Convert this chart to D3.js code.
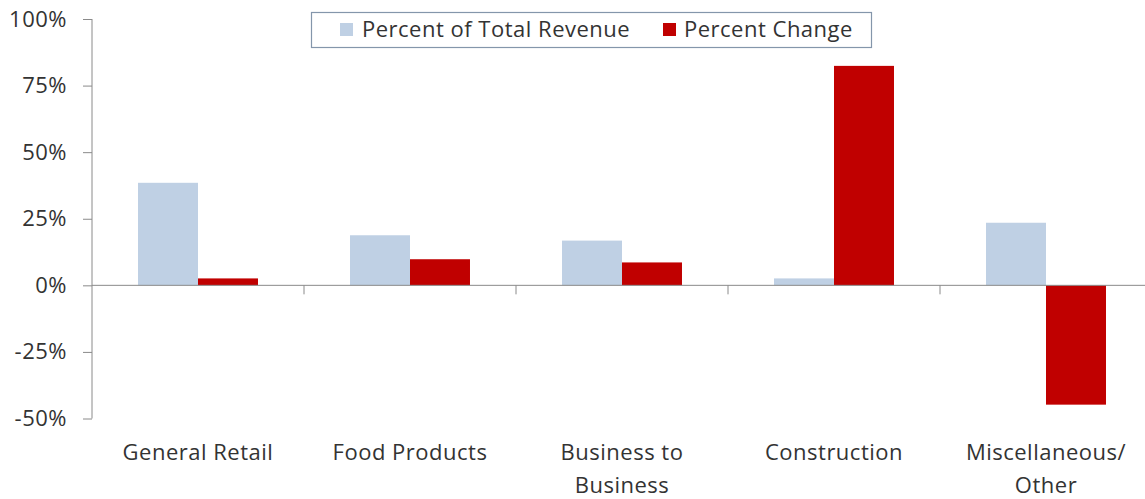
<!DOCTYPE html>
<html>
<head>
<meta charset="utf-8">
<script src="https://cdn.jsdelivr.net/npm/d3@7"></script>
<style>
  html, body { margin: 0; padding: 0; background: #fff; }
  svg { display: block; }
  text { font-family: "Open Sans", sans-serif; fill: #333; letter-spacing: 0.5px; }
</style>
</head>
<body>
<svg id="chart" width="1145" height="499"></svg>
<script>
// Revenue share and year-over-year change by business category
const categories = [
  ["General Retail"],
  ["Food Products"],
  ["Business to", "Business"],
  ["Construction"],
  ["Miscellaneous/", "Other"]
];
const seriesNames = ["Percent of Total Revenue", "Percent Change"];
const percentOfTotalRevenue = [38.5, 18.8, 16.8, 2.6, 23.5];
const percentChange = [2.6, 9.8, 8.6, 82.4, -44.8];
const yTicks = [-50, -25, 0, 25, 50, 75, 100];
const colors = ["#bfd0e4", "#c00000"];

const svg = d3.select("#chart");
const margin = { left: 92, right: -7 };
const W = 1145;
const FONT = "'Open Sans', sans-serif";
const FS = "22px";

const keys = categories.map(c => c.join(" "));
const x0 = d3.scaleBand()
  .domain(keys)
  .range([margin.left, W - margin.right])
  .paddingInner(0).paddingOuter(0);

const x1 = d3.scaleBand()
  .domain(seriesNames)
  .range([0, x0.bandwidth()])
  .paddingInner(0).paddingOuter(0.767);

const y = d3.scaleLinear().domain([-50, 100]).range([418.5, 19]);

const data = keys.map((k, i) => ({
  key: k,
  values: [percentOfTotalRevenue[i], percentChange[i]]
}));

// Bars
const groups = svg.append("g").selectAll("g")
  .data(data).join("g")
  .attr("transform", d => `translate(${x0(d.key)},0)`);

groups.selectAll("rect")
  .data(d => d.values.map((v, j) => ({ name: seriesNames[j], v, j })))
  .join("rect")
  .attr("x", d => x1(d.name))
  .attr("width", x1.bandwidth())
  .attr("y", d => y(Math.max(0, d.v)))
  .attr("height", d => Math.abs(y(d.v) - y(0)))
  .attr("fill", d => colors[d.j]);

// Y axis
const yAxis = d3.axisLeft(y)
  .tickValues(yTicks)
  .tickFormat(d => d + "%")
  .tickSize(9)
  .tickPadding(16);

const yg = svg.append("g")
  .attr("transform", `translate(${margin.left},0)`)
  .call(yAxis);
yg.select(".domain").attr("stroke", "#8a8a8a").attr("d", `M0,${y(100)}V${y(-50)}`);
yg.selectAll(".tick line").attr("stroke", "#8a8a8a");
yg.selectAll(".tick text")
  .style("font-size", FS).style("font-family", FONT)
  .attr("fill", "#333");

// Zero baseline with category separators
const xAxis = d3.axisBottom(x0).tickSize(0).tickFormat("");
const xg = svg.append("g")
  .attr("transform", `translate(0,${y(0)})`)
  .call(xAxis);
xg.select(".domain").attr("stroke", "#8a8a8a").attr("d", `M${margin.left},0H${W}`);
xg.selectAll(".tick").remove();

const sepPositions = keys.slice(1).map(k => x0(k));
xg.selectAll("line.sep")
  .data(sepPositions).join("line")
  .attr("class", "sep")
  .attr("x1", d => d).attr("x2", d => d)
  .attr("y1", 0).attr("y2", 9)
  .attr("stroke", "#8a8a8a");

// Category labels
const labels = svg.append("g").selectAll("text")
  .data(categories).join("text")
  .attr("x", (d, i) => x0(keys[i]) + x0.bandwidth() / 2)
  .attr("y", 460)
  .attr("text-anchor", "middle")
  .style("font-size", FS);
labels.selectAll("tspan")
  .data(d => d).join("tspan")
  .attr("x", function () { return this.parentNode.getAttribute("x"); })
  .attr("dy", (d, i) => i === 0 ? 0 : 33)
  .text(d => d);

// Legend
const legend = svg.append("g");
legend.append("rect")
  .attr("x", 311.5).attr("y", 12.5)
  .attr("width", 560).attr("height", 35)
  .attr("fill", "#fff").attr("stroke", "#8496ab").attr("stroke-width", 1.2);

const legendItems = [
  { name: seriesNames[0], sx: 340, tx: 362 },
  { name: seriesNames[1], sx: 663, tx: 684 }
];
legendItems.forEach((it, i) => {
  legend.append("rect")
    .attr("x", it.sx).attr("y", 23)
    .attr("width", 13).attr("height", 13)
    .attr("fill", colors[i]);
  legend.append("text")
    .attr("x", it.tx).attr("y", 37)
    .style("font-size", FS)
    .text(it.name);
});
</script>
</body>
</html>
